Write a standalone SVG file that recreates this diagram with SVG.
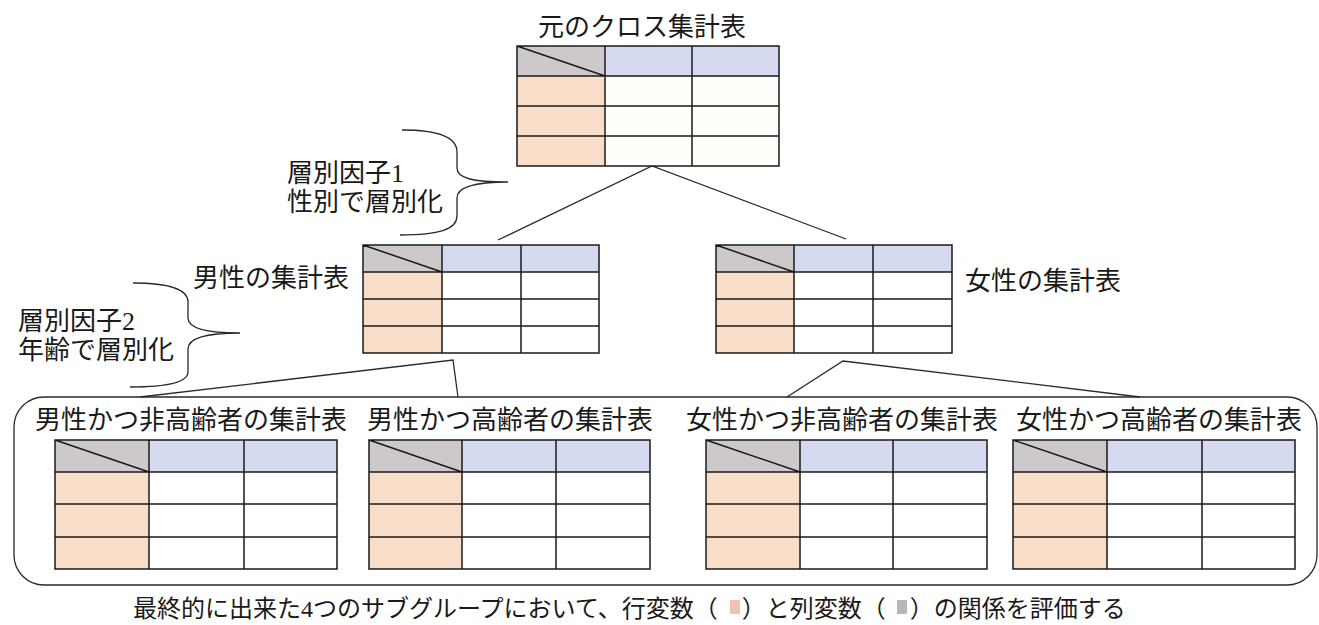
<svg xmlns="http://www.w3.org/2000/svg" width="1319" height="625" viewBox="0 0 1319 625">
<style>
text{font-family:"Liberation Serif","Noto Sans CJK JP",serif;fill:#1a1a1a}
.t26{font-size:26px}
.t24{font-size:24px}
.grid{fill:none;stroke:#1a1a1a;stroke-width:1.5}
.corner{fill:#cdc8c9}
.colh{fill:#d6daf0}
.rowh{fill:#f8ddc9}
.conn{fill:none;stroke:#2a2a2a;stroke-width:1.3}
</style>
<rect width="1319" height="625" fill="#fff"/>

<g id="connectors">
<path class="conn" d="M498,240 L652,166 L846,239"/>
<path class="conn" d="M140,397 L453,360 L458,397"/>
<path class="conn" d="M787,397 L843,361 L1140,397"/>
<path class="conn" d="M402,130 C440,130 457,138 457,152 L457,168 C457,178 472,182 508,182 C472,182 457,188 457,198 L457,216 C457,229 440,235 400,235"/>
<path class="conn" d="M133,283 C170,283 188,290 188,302 L188,318 C188,328 205,333 240,333 C205,333 188,339 188,349 L188,372 C188,382 170,387 130,387"/>
<rect class="conn" x="14" y="397" width="1303" height="188" rx="30" ry="30"/>
</g>

<g id="table-original">
<text class="t26" x="538" y="36">元のクロス集計表</text>
<rect class="corner" x="517" y="46" width="88" height="30"/>
<rect class="colh" x="605" y="46" width="174" height="30"/>
<rect class="rowh" x="517" y="76" width="88" height="90"/>
<rect fill="#fffefa" x="605" y="76" width="174" height="90"/>
<path class="grid" d="M517,46 H779 V166 H517 Z M605,46 V166 M692,46 V166 M517,76 H779 M517,106 H779 M517,136 H779 M517,46 L605,76"/>
</g>

<g id="table-male">
<text class="t26" x="193" y="287">男性の集計表</text>
<rect class="corner" x="363" y="245" width="79" height="27"/>
<rect class="colh" x="442" y="245" width="157" height="27"/>
<rect class="rowh" x="363" y="272" width="79" height="81"/>
<path class="grid" d="M363,245 H599 V353 H363 Z M442,245 V353 M521,245 V353 M363,272 H599 M363,299 H599 M363,326 H599 M363,245 L442,272"/>
</g>

<g id="table-female">
<text class="t26" x="965" y="290">女性の集計表</text>
<rect class="corner" x="716" y="245" width="78" height="27"/>
<rect class="colh" x="794" y="245" width="158" height="27"/>
<rect class="rowh" x="716" y="272" width="78" height="81"/>
<path class="grid" d="M716,245 H952 V353 H716 Z M794,245 V353 M873,245 V353 M716,272 H952 M716,299 H952 M716,326 H952 M716,245 L794,272"/>
</g>

<g id="factor1">
<text class="t26" x="287" y="182">層別因子1</text>
<text class="t26" x="287" y="211">性別で層別化</text>
</g>

<g id="factor2">
<text class="t26" x="18" y="330">層別因子2</text>
<text class="t26" x="18" y="359">年齢で層別化</text>
</g>

<g id="table-male-young">
<text class="t26" x="35" y="429">男性かつ非高齢者の集計表</text>
<rect class="corner" x="55" y="440" width="94" height="32"/>
<rect class="colh" x="149" y="440" width="188" height="32"/>
<rect class="rowh" x="55" y="472" width="94" height="97"/>
<path class="grid" d="M55,440 H337 V569 H55 Z M149,440 V569 M244,440 V569 M55,472 H337 M55,504 H337 M55,537 H337 M55,440 L149,472"/>
</g>

<g id="table-male-old">
<text class="t26" x="367" y="429">男性かつ高齢者の集計表</text>
<rect class="corner" x="369" y="440" width="93" height="32"/>
<rect class="colh" x="462" y="440" width="188" height="32"/>
<rect class="rowh" x="369" y="472" width="93" height="97"/>
<path class="grid" d="M369,440 H650 V569 H369 Z M462,440 V569 M556,440 V569 M369,472 H650 M369,504 H650 M369,537 H650 M369,440 L462,472"/>
</g>

<g id="table-female-young">
<text class="t26" x="686" y="429">女性かつ非高齢者の集計表</text>
<rect class="corner" x="706" y="440" width="94" height="32"/>
<rect class="colh" x="800" y="440" width="187" height="32"/>
<rect class="rowh" x="706" y="472" width="94" height="97"/>
<path class="grid" d="M706,440 H987 V569 H706 Z M800,440 V569 M893,440 V569 M706,472 H987 M706,504 H987 M706,537 H987 M706,440 L800,472"/>
</g>

<g id="table-female-old">
<text class="t26" x="1016" y="429">女性かつ高齢者の集計表</text>
<rect class="corner" x="1013" y="440" width="94" height="32"/>
<rect class="colh" x="1107" y="440" width="188" height="32"/>
<rect class="rowh" x="1013" y="472" width="94" height="97"/>
<path class="grid" d="M1013,440 H1295 V569 H1013 Z M1107,440 V569 M1202,440 V569 M1013,472 H1295 M1013,504 H1295 M1013,537 H1295 M1013,440 L1107,472"/>
</g>

<g id="caption">
<text class="t24" x="133" y="617">最終的に出来た4つのサブグループにおいて、行変数（　）と列変数（　）の関係を評価する</text>
<rect x="730" y="600" width="10" height="14" fill="#f0c2b4"/>
<rect x="897" y="600" width="10" height="14" fill="#b9b6b8"/>
</g>
</svg>
